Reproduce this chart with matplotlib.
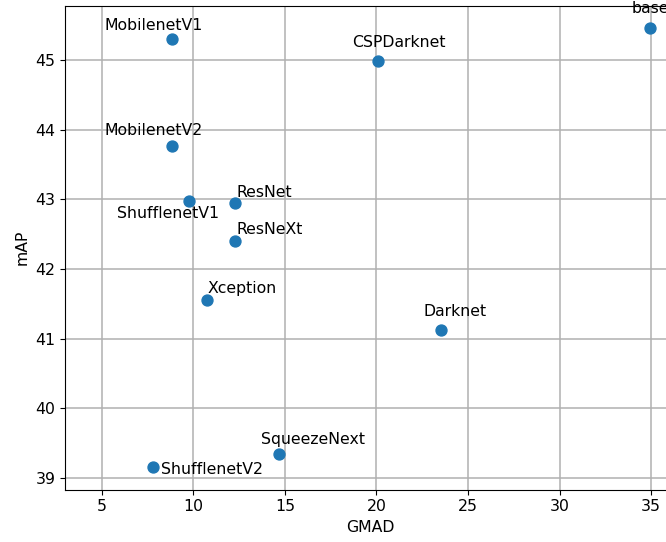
import matplotlib
matplotlib.use("Agg")
import matplotlib.pyplot as plt

plt.rcParams["font.size"] = 11.3

# Backbone comparison: GMAD vs mAP
names = ["MobilenetV1", "CSPDarknet", "base", "MobilenetV2", "ShufflenetV1",
         "ResNet", "ResNeXt", "Xception", "Darknet", "SqueezeNext", "ShufflenetV2"]
gmad = [8.85, 20.09, 34.94, 8.85, 9.78, 12.29, 12.29, 10.73, 23.55, 14.67, 7.81]
map_vals = [45.30, 44.99, 45.46, 43.77, 42.97, 42.94, 42.40, 41.56, 41.12, 39.34, 39.15]

# label offsets in points (dx, dy to baseline) and horizontal alignment
label_offsets = {
    "MobilenetV1": ((-13.3, 6.5), "center"),
    "CSPDarknet": ((15, 10), "center"),
    "base": ((0, 10.5), "center"),
    "MobilenetV2": ((-13.3, 7.5), "center"),
    "ShufflenetV1": ((-15.5, -12), "center"),
    "ResNet": ((0.7, 4.8), "left"),
    "ResNeXt": ((0.7, 4.8), "left"),
    "Xception": ((0.4, 5), "left"),
    "Darknet": ((9.8, 10.3), "center"),
    "SqueezeNext": ((25, 7.2), "center"),
    "ShufflenetV2": ((5.5, -4.8), "left"),
}

fig = plt.figure(figsize=(6.66, 5.42), dpi=100)
ax = fig.add_axes([65 / 666, (542 - 489.7) / 542, 610 / 666, 484 / 542])

ax.scatter(gmad, map_vals, s=62, color="#1f77b4", zorder=3)
for n, x, y in zip(names, gmad, map_vals):
    (dx, dy), ha = label_offsets[n]
    ax.annotate(n, (x, y), xytext=(dx, dy), textcoords="offset points",
                ha=ha, va="baseline", annotation_clip=False)

ax.set_xlim(3, 36.3)
ax.set_ylim(38.83, 45.78)
ax.set_xticks([5, 10, 15, 20, 25, 30, 35])
ax.set_yticks([39, 40, 41, 42, 43, 44, 45])
ax.grid(True, color="#b0b0b0", linewidth=1.1)
ax.set_axisbelow(True)
ax.set_xlabel("GMAD")
ax.set_ylabel("mAP")

fig.savefig("out.png", dpi=100)
